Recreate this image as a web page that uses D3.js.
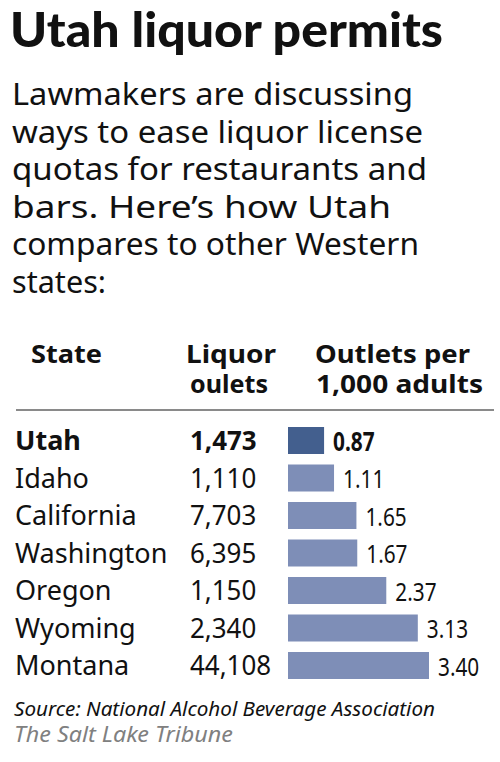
<!DOCTYPE html>
<html>
<head>
<meta charset="utf-8">
<script src="https://cdn.jsdelivr.net/npm/d3@7"></script>
<style>
  body { margin: 0; background: #fff; }
  svg { display: block; }
  text { font-family: "Noto Sans", sans-serif; fill: #111; }
</style>
</head>
<body>
<script>
// datos
var estados = ["Utah", "Idaho", "California", "Washington", "Oregon", "Wyoming", "Montana"];
var locales = [1473, 1110, 7703, 6395, 1150, 2340, 44108];
var porMil = [0.87, 1.11, 1.65, 1.67, 2.37, 3.13, 3.40];

var titulo = "Utah liquor permits";
var subtitulo = [
  "Lawmakers are discussing",
  "ways to ease liquor license",
  "quotas for restaurants and",
  "bars. Here\u2019s how Utah",
  "compares to other Western",
  "states:"
];
var fuente = "Source: National Alcohol Beverage Association";
var credito = "The Salt Lake Tribune";

var w = 500, h = 762;

var svg = d3.select("body").append("svg")
  .attr("width", w)
  .attr("height", h);

// ajusta el ancho de un texto
function ajustar(sel, ancho) {
  sel.attr("textLength", ancho).attr("lengthAdjust", "spacingAndGlyphs");
}
// estrecha un texto un factor k
function estrechar(sel, k) {
  sel.each(function () {
    var t = d3.select(this);
    t.call(ajustar, this.getComputedTextLength() * k);
  });
}

// titulo
svg.append("text")
  .attr("x", 10).attr("y", 47)
  .style("font-family", "Lato, 'Noto Sans', sans-serif")
  .style("font-size", "48px").style("font-weight", 900)
  .text(titulo)
  .call(ajustar, 433);

// subtitulo
var anchosSub = [401, 411, 415, 379, 407, 94];
svg.selectAll(".sub")
  .data(subtitulo)
  .enter().append("text")
  .attr("class", "sub")
  .attr("x", 12)
  .attr("y", function (d, i) { return 105 + i * 37.6; })
  .style("font-size", "31px")
  .text(function (d) { return d; })
  .each(function (d, i) { d3.select(this).call(ajustar, anchosSub[i]); });

// cabeceras
var cab = svg.append("g").style("font-size", "25px").style("font-weight", 700);
cab.append("text").attr("x", 31).attr("y", 363).text("State").call(ajustar, 71);
cab.append("text").attr("x", 231).attr("y", 363).attr("text-anchor", "middle").text("Liquor").call(ajustar, 90);
cab.append("text").attr("x", 229).attr("y", 393).attr("text-anchor", "middle").text("oulets").call(ajustar, 78);
cab.append("text").attr("x", 315).attr("y", 363).text("Outlets per").call(ajustar, 155);
cab.append("text").attr("x", 316).attr("y", 393).text("1,000 adults").call(ajustar, 167);

svg.append("line")
  .attr("x1", 16).attr("x2", 494)
  .attr("y1", 410).attr("y2", 410)
  .attr("stroke", "#8a8a8a").attr("stroke-width", 2);

// escalas
var x0 = 288;
var x = d3.scaleLinear().domain([0, 3.40]).range([0, 141]);
var y = d3.scaleBand()
  .domain(estados)
  .range([421.75, 684.25])
  .paddingInner(0.28)
  .paddingOuter(0.14);

var filas = svg.selectAll(".fila")
  .data(estados)
  .enter().append("g")
  .attr("class", "fila")
  .attr("transform", function (d) { return "translate(0," + y(d) + ")"; })
  .style("font-size", "27px")
  .style("font-weight", function (d, i) { return i === 0 ? 700 : 400; });

var base = y.bandwidth() / 2 + 9.5;

filas.append("text")
  .attr("x", 15).attr("y", base)
  .text(function (d) { return d; });

filas.append("text")
  .attr("x", 190).attr("y", base)
  .text(function (d, i) { return d3.format(",")(locales[i]); })
  .call(estrechar, 0.96);

filas.append("rect")
  .attr("x", x0).attr("y", 0)
  .attr("width", function (d, i) { return x(porMil[i]); })
  .attr("height", y.bandwidth())
  .attr("fill", function (d, i) { return i === 0 ? "#435f8e" : "#7e8eb7"; });

filas.append("text")
  .attr("x", function (d, i) { return x0 + x(porMil[i]) + 9; })
  .attr("y", base + 0.5)
  .style("font-size", "26px")
  .text(function (d, i) { return d3.format(".2f")(porMil[i]); })
  .call(estrechar, 0.8);

// fuente
svg.append("text")
  .attr("x", 14).attr("y", 716)
  .style("font-size", "19px").style("font-style", "italic")
  .text(fuente)
  .call(ajustar, 421);

svg.append("text")
  .attr("x", 14).attr("y", 742)
  .style("font-size", "22px").style("font-style", "italic")
  .style("fill", "#808080")
  .text(credito)
  .call(ajustar, 219);
</script>
</body>
</html>
